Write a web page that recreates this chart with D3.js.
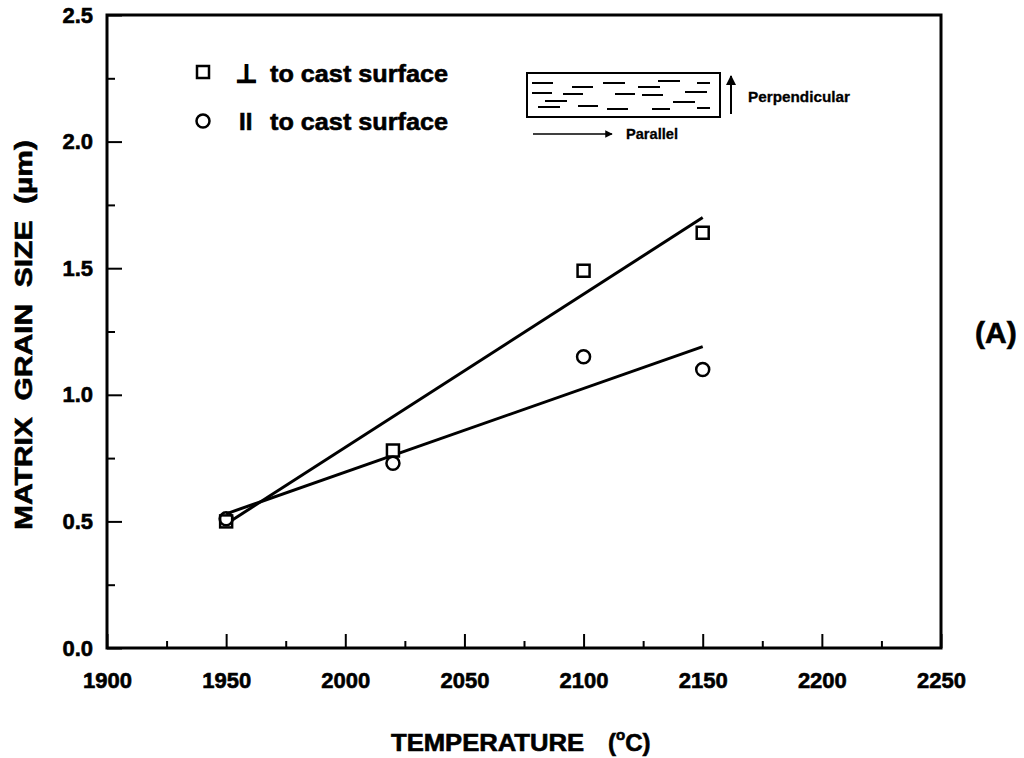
<!DOCTYPE html>
<html>
<head>
<meta charset="utf-8">
<script src="https://cdn.jsdelivr.net/npm/d3@7"></script>
<style>
  html, body { margin: 0; padding: 0; background: #fff; }
  svg { display: block; }
  text { font-family: "Liberation Sans", Arial, Helvetica, sans-serif; font-weight: bold; fill: #000; }
  .heavy { stroke: #000; stroke-width: 0.6px; }
  .semi { stroke: #000; stroke-width: 0.3px; }
</style>
</head>
<body>
<svg id="chart" width="1024" height="758"></svg>
<script>
// Matrix grain size vs. temperature, two orientations relative to the cast surface
const temperatures = [1950, 2020, 2100, 2150];
const perpendicularSize = [0.50, 0.78, 1.49, 1.64];
const parallelSize = [0.51, 0.73, 1.15, 1.10];

// Linear fits drawn across the measured range
const perpendicularFit = [[1950, 0.49], [2150, 1.70]];
const parallelFit = [[1950, 0.53], [2150, 1.19]];

const xMajorTicks = [1900, 1950, 2000, 2050, 2100, 2150, 2200, 2250];
const xMinorTicks = [1925, 1975, 2025, 2075, 2125, 2175, 2225];
const yMajorTicks = [0.0, 0.5, 1.0, 1.5, 2.0, 2.5];
const yMinorTicks = [0.25, 0.75, 1.25, 1.75, 2.25];

const svg = d3.select("#chart");
const plot = { left: 107, right: 941, top: 15, bottom: 648 };

const x = d3.scaleLinear().domain([1900, 2250]).range([plot.left, plot.right]);
const y = d3.scaleLinear().domain([0, 2.5]).range([plot.bottom, plot.top]);

// Axes with inward ticks
const xAxis = svg.append("g")
  .attr("transform", `translate(0,${plot.bottom})`)
  .call(d3.axisBottom(x).tickValues(xMajorTicks).tickSize(-14).tickPadding(24)
    .tickFormat(d3.format("d")));
svg.append("g")
  .attr("transform", `translate(0,${plot.bottom})`)
  .call(d3.axisBottom(x).tickValues(xMinorTicks).tickSize(-7).tickFormat(""));
const yAxis = svg.append("g")
  .attr("transform", `translate(${plot.left},0)`)
  .call(d3.axisLeft(y).tickValues(yMajorTicks).tickSize(-15).tickPadding(14)
    .tickFormat(d3.format(".1f")));
svg.append("g")
  .attr("transform", `translate(${plot.left},0)`)
  .call(d3.axisLeft(y).tickValues(yMinorTicks).tickSize(-8).tickFormat(""));

svg.selectAll(".domain").remove();
svg.selectAll(".tick line").attr("stroke", "#000").attr("stroke-width", 2);
xAxis.selectAll(".tick text").attr("font-size", 22).attr("fill", "#000").attr("class", "heavy");
yAxis.selectAll(".tick text").attr("font-size", 22).attr("fill", "#000").attr("class", "heavy");

// Plot frame
svg.append("rect")
  .attr("x", plot.left).attr("y", plot.top)
  .attr("width", plot.right - plot.left).attr("height", plot.bottom - plot.top)
  .attr("fill", "none").attr("stroke", "#000").attr("stroke-width", 3);

// Fit lines
const line = d3.line().x(d => x(d[0])).y(d => y(d[1]));
[perpendicularFit, parallelFit].forEach(fit => {
  svg.append("path").attr("d", line(fit))
    .attr("fill", "none").attr("stroke", "#000").attr("stroke-width", 3);
});

// Markers
const sq = 12;
svg.append("g").selectAll("rect")
  .data(temperatures.map((t, i) => [t, perpendicularSize[i]]))
  .join("rect")
  .attr("x", d => x(d[0]) - sq / 2).attr("y", d => y(d[1]) - sq / 2)
  .attr("width", sq).attr("height", sq)
  .attr("fill", "#fff").attr("stroke", "#000").attr("stroke-width", 2.5);
svg.append("g").selectAll("circle")
  .data(temperatures.map((t, i) => [t, parallelSize[i]]))
  .join("circle")
  .attr("cx", d => x(d[0])).attr("cy", d => y(d[1])).attr("r", 6.5)
  .attr("fill", "none").attr("stroke", "#000").attr("stroke-width", 2.5);

// Legend
const legend = svg.append("g");
legend.append("rect").attr("x", 197).attr("y", 66).attr("width", 12).attr("height", 12)
  .attr("fill", "#fff").attr("stroke", "#000").attr("stroke-width", 2.5);
legend.append("text").attr("x", 236).attr("y", 82).attr("font-size", 24)
  .attr("font-family", "DejaVu Sans").attr("class", "heavy")
  .style("stroke-width", "1.4px").text("⊥");
legend.append("text").attr("x", 270).attr("y", 82).attr("font-size", 24)
  .attr("class", "heavy").attr("textLength", 178).attr("lengthAdjust", "spacingAndGlyphs")
  .text("to cast surface");
legend.append("circle").attr("cx", 203).attr("cy", 121).attr("r", 6.5)
  .attr("fill", "none").attr("stroke", "#000").attr("stroke-width", 2.5);
legend.append("text").attr("x", 239).attr("y", 130).attr("font-size", 24)
  .attr("class", "heavy").text("II");
legend.append("text").attr("x", 270).attr("y", 130).attr("font-size", 24)
  .attr("class", "heavy").attr("textLength", 178).attr("lengthAdjust", "spacingAndGlyphs")
  .text("to cast surface");

// Orientation sketch: cast block with aligned grains
const inset = svg.append("g").attr("transform", "translate(527,73)");
inset.append("rect").attr("width", 193).attr("height", 44)
  .attr("fill", "#fff").attr("stroke", "#000").attr("stroke-width", 2);
const grainStrokes = [
  [5, 26, 10], [76, 98, 10], [131, 153, 8], [170, 183, 10],
  [45, 66, 14], [111, 133, 14], [5, 25, 20], [36, 56, 21],
  [88, 108, 21], [115, 136, 22], [158, 180, 19], [18, 40, 28],
  [146, 168, 29], [11, 33, 34], [51, 71, 33], [125, 143, 36],
  [170, 183, 35], [80, 101, 36]
];
inset.selectAll("line.grain").data(grainStrokes).join("line")
  .attr("class", "grain")
  .attr("x1", d => d[0]).attr("x2", d => d[1])
  .attr("y1", d => d[2]).attr("y2", d => d[2])
  .attr("stroke", "#000").attr("stroke-width", 2);

const defs = svg.append("defs");
defs.append("marker").attr("id", "head").attr("viewBox", "0 0 10 10")
  .attr("refX", 9).attr("refY", 5).attr("markerWidth", 5).attr("markerHeight", 5)
  .attr("orient", "auto")
  .append("path").attr("d", "M0,0 L10,5 L0,10 Z").attr("fill", "#000");

svg.append("line").attr("x1", 731).attr("y1", 114).attr("x2", 731).attr("y2", 76)
  .attr("stroke", "#000").attr("stroke-width", 2).attr("marker-end", "url(#head)");
svg.append("text").attr("x", 748).attr("y", 102).attr("font-size", 15).attr("class", "semi")
  .attr("textLength", 102).attr("lengthAdjust", "spacingAndGlyphs").text("Perpendicular");
svg.append("line").attr("x1", 533).attr("y1", 134).attr("x2", 612).attr("y2", 134)
  .attr("stroke", "#000").attr("stroke-width", 1.5).attr("marker-end", "url(#head)");
svg.append("text").attr("x", 626).attr("y", 139).attr("font-size", 15).attr("class", "semi")
  .attr("textLength", 52).attr("lengthAdjust", "spacingAndGlyphs").text("Parallel");

// Panel tag
svg.append("text").attr("x", 975).attr("y", 343).attr("font-size", 30)
  .attr("class", "heavy").text("(A)");

// Axis titles
svg.append("text").attr("x", 391).attr("y", 751).attr("font-size", 24)
  .attr("class", "heavy").attr("textLength", 193).attr("lengthAdjust", "spacingAndGlyphs")
  .text("TEMPERATURE");
const unit = svg.append("text").attr("x", 608).attr("y", 751).attr("font-size", 24)
  .attr("class", "heavy");
unit.append("tspan").text("(");
unit.append("tspan").attr("font-size", 15).attr("dy", -11).text("o");
unit.append("tspan").attr("dy", 11).text("C)");

svg.append("text")
  .attr("transform", "translate(32,335) rotate(-90)")
  .attr("text-anchor", "middle").attr("font-size", 24)
  .attr("class", "heavy")
  .attr("xml:space", "preserve")
  .attr("textLength", 390).attr("lengthAdjust", "spacingAndGlyphs")
  .text("MATRIX  GRAIN  SIZE  (µm)");
</script>
</body>
</html>
